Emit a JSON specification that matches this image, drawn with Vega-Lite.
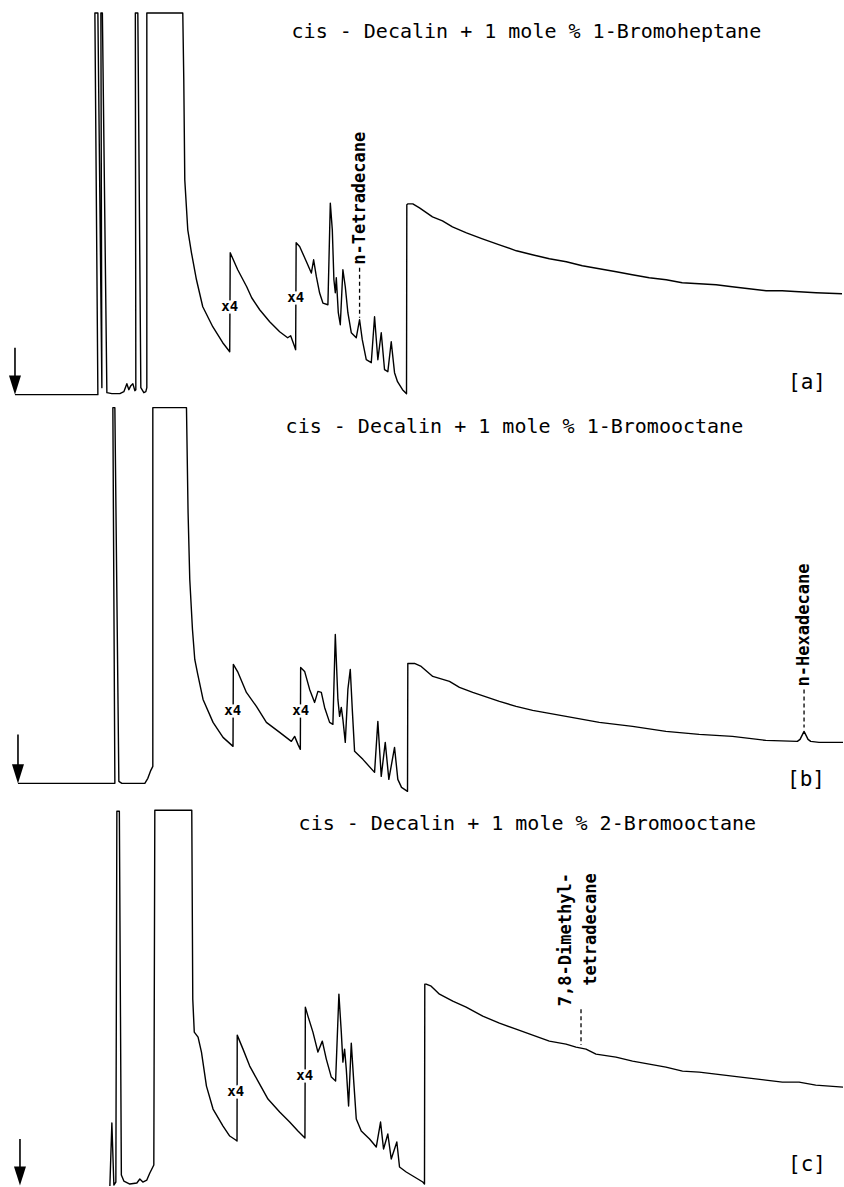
{
"$schema":"https://vega.github.io/schema/vega-lite/v6.json",
"width":844,"height":1187,
"autosize":{"type":"fit","contains":"padding"},
"padding":0,
"background":"white",
"config":{"view":{"stroke":null}},
"datasets":{
"trace":[
{"p":"a","x":15,"y":395},{"p":"a","x":98,"y":395},{"p":"a","x":95,"y":13},{"p":"a","x":98,"y":13},{"p":"a","x":102,"y":388},{"p":"a","x":101,"y":13},{"p":"a","x":102.5,"y":13},{"p":"a","x":107,"y":393},{"p":"a","x":112,"y":394},{"p":"a","x":120,"y":394},{"p":"a","x":124,"y":392},{"p":"a","x":127,"y":384},{"p":"a","x":129,"y":390},{"p":"a","x":131,"y":386},{"p":"a","x":133,"y":384},{"p":"a","x":135,"y":391},{"p":"a","x":136,"y":390},{"p":"a","x":135.5,"y":13},{"p":"a","x":138,"y":13},{"p":"a","x":141,"y":388},{"p":"a","x":144,"y":393},{"p":"a","x":146,"y":392},{"p":"a","x":147,"y":388},{"p":"a","x":147,"y":13},{"p":"a","x":183,"y":13},{"p":"a","x":184,"y":80},{"p":"a","x":185,"y":180},{"p":"a","x":188,"y":230},{"p":"a","x":191.7,"y":253},{"p":"a","x":196.7,"y":280},{"p":"a","x":203,"y":307},{"p":"a","x":213,"y":327},{"p":"a","x":223,"y":343},{"p":"a","x":230,"y":352},{"p":"a","x":230.5,"y":253},{"p":"a","x":238,"y":270},{"p":"a","x":247,"y":287},{"p":"a","x":252,"y":298},{"p":"a","x":260,"y":310},{"p":"a","x":270,"y":322},{"p":"a","x":280,"y":332},{"p":"a","x":288,"y":338},{"p":"a","x":291,"y":336},{"p":"a","x":295,"y":347},{"p":"a","x":296,"y":350},{"p":"a","x":296.5,"y":243},{"p":"a","x":300,"y":246.7},{"p":"a","x":306.7,"y":261.7},{"p":"a","x":311.7,"y":273.3},{"p":"a","x":314,"y":260},{"p":"a","x":316.7,"y":276.7},{"p":"a","x":320,"y":293.3},{"p":"a","x":323.3,"y":303.3},{"p":"a","x":328.3,"y":305},{"p":"a","x":330.7,"y":203.3},{"p":"a","x":332.7,"y":230},{"p":"a","x":334.3,"y":280},{"p":"a","x":335.7,"y":293},{"p":"a","x":336.7,"y":278},{"p":"a","x":338.7,"y":313},{"p":"a","x":340.7,"y":325},{"p":"a","x":343.3,"y":270},{"p":"a","x":345.7,"y":287},{"p":"a","x":348.3,"y":313},{"p":"a","x":351.7,"y":333},{"p":"a","x":356.7,"y":338},{"p":"a","x":360,"y":320},{"p":"a","x":362.7,"y":340},{"p":"a","x":366.7,"y":360},{"p":"a","x":371.7,"y":363},{"p":"a","x":375,"y":317},{"p":"a","x":378.3,"y":360},{"p":"a","x":381.7,"y":333},{"p":"a","x":385,"y":370},{"p":"a","x":388.3,"y":372},{"p":"a","x":391.7,"y":342},{"p":"a","x":395,"y":373},{"p":"a","x":398,"y":382},{"p":"a","x":403,"y":390},{"p":"a","x":407,"y":394},{"p":"a","x":407.3,"y":205},{"p":"a","x":408.5,"y":204},{"p":"a","x":413.3,"y":204},{"p":"a","x":420,"y":208},{"p":"a","x":433,"y":217},{"p":"a","x":443,"y":221},{"p":"a","x":453,"y":227},{"p":"a","x":467,"y":233},{"p":"a","x":483,"y":239},{"p":"a","x":500,"y":245},{"p":"a","x":517,"y":251},{"p":"a","x":533,"y":255},{"p":"a","x":550,"y":259},{"p":"a","x":567,"y":262},{"p":"a","x":583,"y":266},{"p":"a","x":600,"y":269},{"p":"a","x":617,"y":272},{"p":"a","x":633,"y":275},{"p":"a","x":650,"y":278},{"p":"a","x":667,"y":280},{"p":"a","x":683,"y":283},{"p":"a","x":700,"y":284},{"p":"a","x":717,"y":285},{"p":"a","x":733,"y":287},{"p":"a","x":750,"y":289},{"p":"a","x":767,"y":291},{"p":"a","x":783,"y":291},{"p":"a","x":800,"y":292},{"p":"a","x":817,"y":293},{"p":"a","x":843,"y":294},
{"p":"b","x":18,"y":784},{"p":"b","x":115,"y":784},{"p":"b","x":113,"y":408},{"p":"b","x":115,"y":408},{"p":"b","x":119,"y":782},{"p":"b","x":122,"y":784},{"p":"b","x":145,"y":784},{"p":"b","x":148,"y":779},{"p":"b","x":151,"y":771},{"p":"b","x":153,"y":767},{"p":"b","x":153,"y":408},{"p":"b","x":186.7,"y":408},{"p":"b","x":188.3,"y":513},{"p":"b","x":190,"y":580},{"p":"b","x":192.7,"y":630},{"p":"b","x":195,"y":660},{"p":"b","x":198,"y":675},{"p":"b","x":203.3,"y":700},{"p":"b","x":213.3,"y":723},{"p":"b","x":223.3,"y":738},{"p":"b","x":233.3,"y":747},{"p":"b","x":233.6,"y":665},{"p":"b","x":238.3,"y":673},{"p":"b","x":246.7,"y":693},{"p":"b","x":256.7,"y":707},{"p":"b","x":266.7,"y":723},{"p":"b","x":280,"y":733},{"p":"b","x":291.7,"y":742},{"p":"b","x":295,"y":737},{"p":"b","x":298.3,"y":745},{"p":"b","x":300.7,"y":750},{"p":"b","x":301,"y":668},{"p":"b","x":305,"y":672},{"p":"b","x":310,"y":690},{"p":"b","x":315,"y":703},{"p":"b","x":318.3,"y":692},{"p":"b","x":321.7,"y":693},{"p":"b","x":325,"y":708},{"p":"b","x":330,"y":723},{"p":"b","x":333.3,"y":725},{"p":"b","x":335.7,"y":635},{"p":"b","x":338.3,"y":700},{"p":"b","x":340,"y":717},{"p":"b","x":341.7,"y":708},{"p":"b","x":343.3,"y":720},{"p":"b","x":345.7,"y":743},{"p":"b","x":348.3,"y":690},{"p":"b","x":350.7,"y":670},{"p":"b","x":352.7,"y":710},{"p":"b","x":355,"y":752},{"p":"b","x":363.3,"y":760},{"p":"b","x":375,"y":773},{"p":"b","x":378.3,"y":722},{"p":"b","x":381.7,"y":777},{"p":"b","x":385.7,"y":743},{"p":"b","x":389.3,"y":780},{"p":"b","x":395,"y":748},{"p":"b","x":398.3,"y":780},{"p":"b","x":402,"y":788},{"p":"b","x":408,"y":792},{"p":"b","x":408.3,"y":664},{"p":"b","x":415,"y":664},{"p":"b","x":421.7,"y":667},{"p":"b","x":433.3,"y":677},{"p":"b","x":450,"y":682},{"p":"b","x":460,"y":688},{"p":"b","x":473.3,"y":693},{"p":"b","x":500,"y":702},{"p":"b","x":516.7,"y":707},{"p":"b","x":533.3,"y":711},{"p":"b","x":550,"y":714},{"p":"b","x":566.7,"y":717},{"p":"b","x":600,"y":723},{"p":"b","x":633.3,"y":727},{"p":"b","x":666.7,"y":732},{"p":"b","x":700,"y":735},{"p":"b","x":733.3,"y":737},{"p":"b","x":766.7,"y":741},{"p":"b","x":798.3,"y":742},{"p":"b","x":801,"y":740},{"p":"b","x":805,"y":732},{"p":"b","x":809,"y":740},{"p":"b","x":811.7,"y":742},{"p":"b","x":820,"y":743},{"p":"b","x":844,"y":743},
{"p":"c","x":110,"y":1187},{"p":"c","x":112,"y":1124},{"p":"c","x":114,"y":1186},{"p":"c","x":116,"y":1183},{"p":"c","x":117,"y":812},{"p":"c","x":119.5,"y":812},{"p":"c","x":121.5,"y":1176},{"p":"c","x":124,"y":1182},{"p":"c","x":130,"y":1185},{"p":"c","x":137,"y":1184},{"p":"c","x":140,"y":1180},{"p":"c","x":143,"y":1183},{"p":"c","x":147,"y":1181},{"p":"c","x":150,"y":1174},{"p":"c","x":154,"y":1166},{"p":"c","x":155,"y":811},{"p":"c","x":192,"y":811},{"p":"c","x":193,"y":1000},{"p":"c","x":194.5,"y":1033},{"p":"c","x":198.3,"y":1038},{"p":"c","x":201.7,"y":1053},{"p":"c","x":206.7,"y":1087},{"p":"c","x":213.3,"y":1110},{"p":"c","x":223.3,"y":1127},{"p":"c","x":230,"y":1137},{"p":"c","x":236,"y":1141},{"p":"c","x":237.3,"y":1142},{"p":"c","x":237.5,"y":1036},{"p":"c","x":243.3,"y":1050},{"p":"c","x":250,"y":1067},{"p":"c","x":258.3,"y":1082},{"p":"c","x":268.3,"y":1100},{"p":"c","x":280,"y":1113},{"p":"c","x":290,"y":1123},{"p":"c","x":298.3,"y":1132},{"p":"c","x":303.3,"y":1137},{"p":"c","x":305.3,"y":1139},{"p":"c","x":305.7,"y":1008},{"p":"c","x":308.3,"y":1017},{"p":"c","x":313.3,"y":1033},{"p":"c","x":318.3,"y":1053},{"p":"c","x":322.7,"y":1042},{"p":"c","x":326.7,"y":1060},{"p":"c","x":331.7,"y":1078},{"p":"c","x":336,"y":1082},{"p":"c","x":339.3,"y":995},{"p":"c","x":341.7,"y":1033},{"p":"c","x":343.3,"y":1063},{"p":"c","x":345,"y":1050},{"p":"c","x":346.7,"y":1070},{"p":"c","x":349,"y":1107},{"p":"c","x":351.7,"y":1044},{"p":"c","x":354,"y":1080},{"p":"c","x":356.7,"y":1120},{"p":"c","x":361.7,"y":1132},{"p":"c","x":370,"y":1140},{"p":"c","x":376.7,"y":1148},{"p":"c","x":381,"y":1123},{"p":"c","x":384,"y":1150},{"p":"c","x":388.3,"y":1135},{"p":"c","x":391.7,"y":1160},{"p":"c","x":397.3,"y":1143},{"p":"c","x":400,"y":1168},{"p":"c","x":406.7,"y":1173},{"p":"c","x":415,"y":1178},{"p":"c","x":423.3,"y":1183},{"p":"c","x":425,"y":1185},{"p":"c","x":425.3,"y":985},{"p":"c","x":426.7,"y":985},{"p":"c","x":431.7,"y":987},{"p":"c","x":440,"y":995},{"p":"c","x":453.3,"y":1002},{"p":"c","x":466.7,"y":1008},{"p":"c","x":483.3,"y":1017},{"p":"c","x":500,"y":1024},{"p":"c","x":516.7,"y":1030},{"p":"c","x":533.3,"y":1036},{"p":"c","x":550,"y":1042},{"p":"c","x":566.7,"y":1045},{"p":"c","x":576.7,"y":1048},{"p":"c","x":586.7,"y":1050},{"p":"c","x":596.7,"y":1055},{"p":"c","x":616.7,"y":1058},{"p":"c","x":633.3,"y":1062},{"p":"c","x":650,"y":1065},{"p":"c","x":666.7,"y":1068},{"p":"c","x":683.3,"y":1072},{"p":"c","x":700,"y":1073},{"p":"c","x":716.7,"y":1075},{"p":"c","x":733.3,"y":1077},{"p":"c","x":750,"y":1079},{"p":"c","x":766.7,"y":1081},{"p":"c","x":783.3,"y":1083},{"p":"c","x":800,"y":1083},{"p":"c","x":816.7,"y":1086},{"p":"c","x":844,"y":1088}
],
"arrows":[{"x":15,"y":348,"y2":388,"tip":385.5},{"x":18,"y":735,"y2":777,"tip":774.5},{"x":20,"y":1140,"y2":1180,"tip":1177}],
"dashes":[{"x":360,"y":268,"y2":318},{"x":805,"y":690,"y2":728},{"x":581.7,"y":1010,"y2":1046}],
"titles":[{"t":"cis - Decalin + 1 mole % 1-Bromoheptane","x":527,"y":38},{"t":"cis - Decalin + 1 mole % 1-Bromooctane","x":515,"y":433},{"t":"cis - Decalin + 1 mole % 2-Bromooctane","x":528,"y":831}],
"tags":[{"t":"[a]","x":808,"y":383},{"t":"[b]","x":807,"y":781},{"t":"[c]","x":808,"y":1166}],
"times":[{"t":"x4","x":230,"y":307},{"t":"x4","x":296,"y":298},{"t":"x4","x":233,"y":712},{"t":"x4","x":301,"y":712},{"t":"x4","x":236,"y":1093},{"t":"x4","x":305,"y":1077}],
"vup":[{"t":"n-Tetradecane","x":360,"y":265},{"t":"n-Hexadecane","x":805,"y":687},{"t":"7,8-Dimethyl-","x":567,"y":1007}],
"vdown":[{"t":"tetradecane","x":592,"y":874}]
},
"encoding":{
"x":{"field":"x","type":"quantitative","scale":{"domain":[0,844],"nice":false,"zero":false},"axis":null},
"y":{"field":"y","type":"quantitative","scale":{"domain":[0,1187],"nice":false,"zero":false,"reverse":true},"axis":null}
},
"layer":[
{"data":{"name":"trace"},"mark":{"type":"line","color":"black","strokeWidth":1.4,"strokeJoin":"round"},"encoding":{"detail":{"field":"p"},"order":{"value":null}}},
{"data":{"name":"arrows"},"mark":{"type":"rule","color":"black","strokeWidth":1.6},"encoding":{"y2":{"field":"y2"}}},
{"data":{"name":"arrows"},"mark":{"type":"point","shape":"M-1,-1.6L1,-1.6L0,1.6Z","filled":true,"color":"black","opacity":1,"size":144},"encoding":{"y":{"field":"tip","type":"quantitative"}}},
{"data":{"name":"dashes"},"mark":{"type":"rule","color":"black","strokeWidth":1.3,"strokeDash":[4,3]},"encoding":{"y2":{"field":"y2"}}},
{"data":{"name":"titles"},"mark":{"type":"text","font":"DejaVu Sans Mono","fontSize":20,"align":"center","baseline":"alphabetic","color":"black"},"encoding":{"text":{"field":"t"}}},
{"data":{"name":"tags"},"mark":{"type":"text","font":"DejaVu Sans Mono","fontSize":21,"align":"center","baseline":"middle","color":"black"},"encoding":{"text":{"field":"t"}}},
{"data":{"name":"times"},"mark":{"type":"text","font":"DejaVu Sans Mono","fontSize":14,"fontWeight":"bold","align":"center","baseline":"middle","color":"white","stroke":"white","strokeWidth":5},"encoding":{"text":{"field":"t"}}},
{"data":{"name":"times"},"mark":{"type":"text","font":"DejaVu Sans Mono","fontSize":14,"fontWeight":"bold","align":"center","baseline":"middle","color":"black"},"encoding":{"text":{"field":"t"}}},
{"data":{"name":"vup"},"mark":{"type":"text","font":"DejaVu Sans Mono","fontSize":17,"fontWeight":"bold","angle":270,"align":"left","baseline":"middle","color":"black"},"encoding":{"text":{"field":"t"}}},
{"data":{"name":"vdown"},"mark":{"type":"text","font":"DejaVu Sans Mono","fontSize":17,"fontWeight":"bold","angle":270,"align":"right","baseline":"middle","color":"black"},"encoding":{"text":{"field":"t"}}}
]
}
